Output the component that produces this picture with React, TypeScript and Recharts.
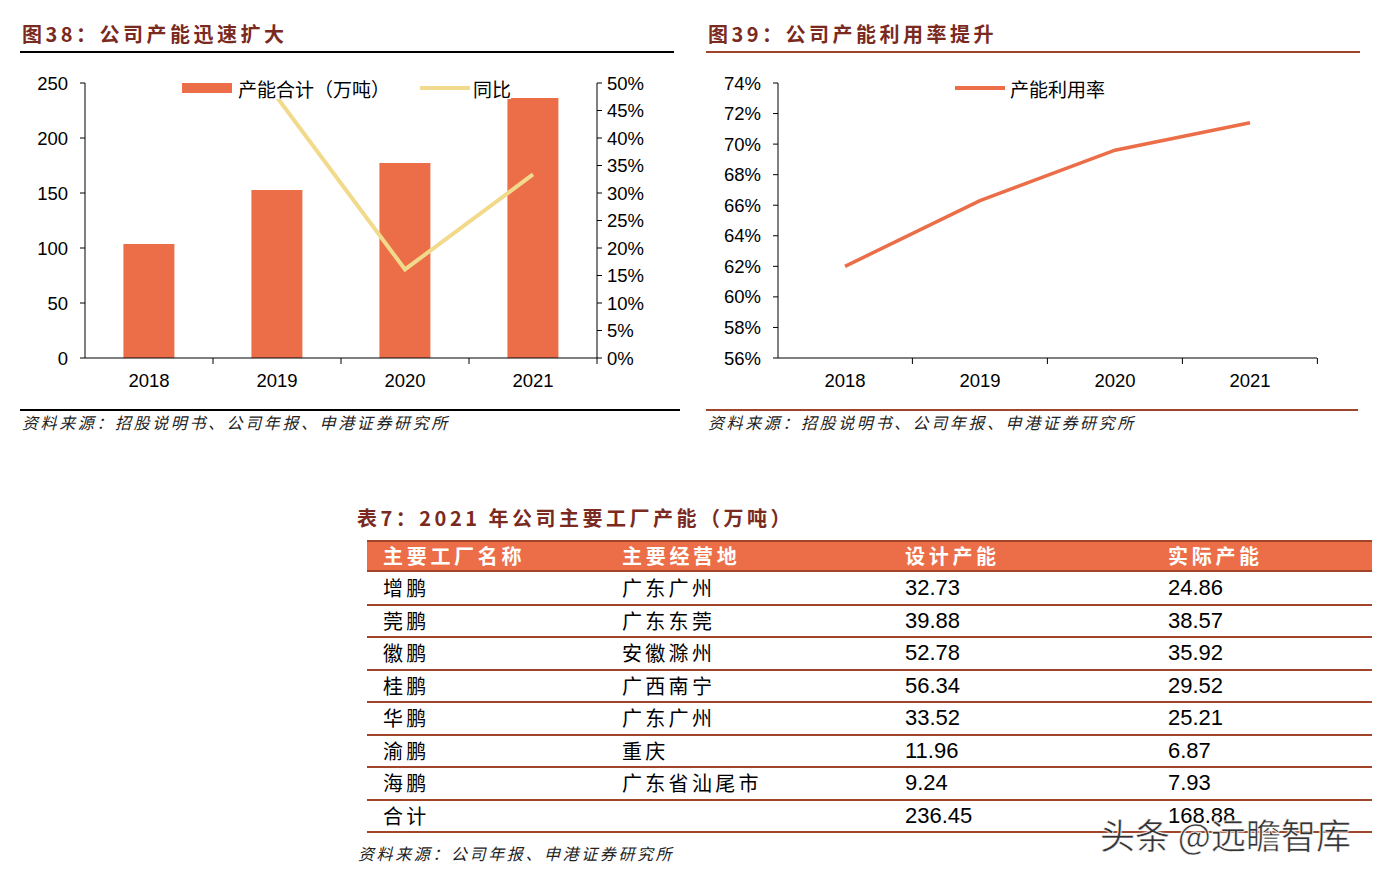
import React from "react";
import {
  ComposedChart,
  LineChart,
  Bar,
  Line,
  XAxis,
  YAxis,
  Legend,
} from "recharts";

const years = ["2018", "2019", "2020", "2021"];
const capacity = [103.6, 152.7, 177.3, 236.45];
const yoy = [null, 47.4, 16.1, 33.4];
const utilization = [62.0, 66.3, 69.6, 71.4];

const capTicks = [0, 50, 100, 150, 200, 250];
const yoyTicks = [0, 5, 10, 15, 20, 25, 30, 35, 40, 45, 50];
const utilTicks = [56, 58, 60, 62, 64, 66, 68, 70, 72, 74];

const tableHead = ["主要工厂名称", "主要经营地", "设计产能", "实际产能"];
const factories = ["增鹏", "莞鹏", "徽鹏", "桂鹏", "华鹏", "渝鹏", "海鹏", "合计"];
const places = ["广东广州", "广东东莞", "安徽滁州", "广西南宁", "广东广州", "重庆", "广东省汕尾市", ""];
const designCap = ["32.73", "39.88", "52.78", "56.34", "33.52", "11.96", "9.24", "236.45"];
const actualCap = ["24.86", "38.57", "35.92", "29.52", "25.21", "6.87", "7.93", "168.88"];

const ORANGE = "#EB6E48";
const YELLOW = "#F2DA8C";
const TITLE = "#7A2A1E";
const RULE = "#A0442A";
const NUM_FONT = '"Liberation Sans", Arial, sans-serif';
const CJK = '"Noto Sans CJK SC", sans-serif';

const capData = years.map((y, i) => ({ year: y, cap: capacity[i], yoy: yoy[i] }));
const utilData = years.map((y, i) => ({ year: y, util: utilization[i] }));

const tickStyle = { fill: "#000", fontSize: 18.5, fontFamily: NUM_FONT };
const pct = (v: number) => `${v}%`;

// year label plus a small separator mark at the right edge of each category
function YearTick(props: any) {
  const { x, y, payload, half } = props;
  const axisY = y - 16;
  return (
    <g>
      <text
        x={x}
        y={y}
        dy="0.71em"
        textAnchor="middle"
        fill="#000"
        fontSize={18.5}
        fontFamily={NUM_FONT}
      >
        {payload.value}
      </text>
      <line x1={x + half} x2={x + half} y1={axisY} y2={axisY + 6} stroke="#000" />
    </g>
  );
}

function Title({ x, text, line }: { x: number; text: string; line: string }) {
  return (
    <>
      <div
        style={{
          position: "absolute",
          left: x,
          top: 20,
          fontFamily: CJK,
          fontWeight: 700,
          fontSize: 20,
          letterSpacing: 3.5,
          color: TITLE,
          lineHeight: "28px",
          whiteSpace: "nowrap",
        }}
      >
        {text}
      </div>
      <div style={{ position: "absolute", left: x - 2, top: 51, width: 654, height: 1.5, background: line }} />
    </>
  );
}

function Source({ x, y, text }: { x: number; y: number; text: string }) {
  return (
    <div
      style={{
        position: "absolute",
        left: x,
        top: y,
        fontFamily: CJK,
        fontStyle: "italic",
        fontSize: 16,
        color: "#222",
        letterSpacing: 2.6,
        whiteSpace: "nowrap",
      }}
    >
      {text}
    </div>
  );
}

function CapLegend() {
  return (
    <div style={{ display: "flex", alignItems: "center", background: "#fff", fontFamily: CJK, fontSize: 19, height: 22 }}>
      <span style={{ width: 50, height: 10, background: ORANGE, display: "inline-block", marginRight: 6 }} />
      <span style={{ marginRight: 30 }}>产能合计（万吨）</span>
      <span style={{ width: 50, height: 4, background: YELLOW, display: "inline-block", marginRight: 3 }} />
      <span>同比</span>
    </div>
  );
}

function UtilLegend() {
  return (
    <div style={{ display: "flex", alignItems: "center", fontFamily: CJK, fontSize: 19, height: 22 }}>
      <span style={{ width: 50, height: 4, background: ORANGE, display: "inline-block", marginRight: 5 }} />
      <span>产能利用率</span>
    </div>
  );
}

export default function App() {
  const rowH = 32.5;
  const colX = [367, 606, 889, 1152, 1372];
  return (
    <div
      style={{
        position: "absolute",
        left: 0,
        top: 0,
        width: 1381,
        height: 880,
        background: "#fff",
        overflow: "hidden",
        fontFamily: CJK,
      }}
    >
      <Title x={22} text="图38：公司产能迅速扩大" line="#000" />
      <Title x={708} text="图39：公司产能利用率提升" line={RULE} />

      <div style={{ position: "absolute", left: 0, top: 60 }}>
        <ComposedChart
          width={690}
          height={360}
          data={capData}
          margin={{ top: 23, right: 0, bottom: 32, left: 0 }}
          barCategoryGap="30%"
        >
          <XAxis
            dataKey="year"
            tick={<YearTick half={64} />}
            tickLine={false}
            tickSize={6}
            tickMargin={10}
            axisLine={{ stroke: "#000" }}
            height={30}
          />
          <YAxis
            yAxisId="left"
            width={85}
            domain={[0, 250]}
            ticks={capTicks}
            tick={tickStyle}
            tickSize={5}
            tickMargin={12}
            axisLine={{ stroke: "#000" }}
            tickLine={{ stroke: "#000" }}
          />
          <YAxis
            yAxisId="right"
            orientation="right"
            width={93}
            domain={[0, 50]}
            ticks={yoyTicks}
            tickFormatter={pct}
            tick={{ ...tickStyle, textAnchor: "start" }}
            tickSize={5}
            tickMargin={5}
            axisLine={{ stroke: "#000" }}
            tickLine={{ stroke: "#000" }}
          />
          <Bar yAxisId="left" dataKey="cap" fill={ORANGE} isAnimationActive={false} />
          <Line
            yAxisId="right"
            dataKey="yoy"
            stroke={YELLOW}
            strokeWidth={4}
            dot={false}
            isAnimationActive={false}
          />
          <Legend
            layout="horizontal"
            verticalAlign="middle"
            align="center"
            wrapperStyle={{ top: 17, left: 182, width: "auto" }}
            content={() => <CapLegend />}
          />
        </ComposedChart>
      </div>

      <div style={{ position: "absolute", left: 690, top: 60 }}>
        <LineChart
          width={690}
          height={360}
          data={utilData}
          margin={{ top: 23, right: 63, bottom: 32, left: 0 }}
        >
          <XAxis
            dataKey="year"
            tick={<YearTick half={67.4} />}
            tickLine={false}
            tickSize={6}
            tickMargin={10}
            axisLine={{ stroke: "#000" }}
            height={30}
            padding={{ left: 67, right: 67 }}
          />
          <YAxis
            width={88}
            domain={[56, 74]}
            ticks={utilTicks}
            tickFormatter={pct}
            tick={tickStyle}
            tickSize={5}
            tickMargin={12}
            axisLine={{ stroke: "#000" }}
            tickLine={{ stroke: "#000" }}
          />
          <Line
            dataKey="util"
            stroke={ORANGE}
            strokeWidth={3.5}
            dot={false}
            isAnimationActive={false}
          />
          <Legend
            layout="horizontal"
            verticalAlign="middle"
            align="center"
            wrapperStyle={{ top: 17, left: 265, width: "auto" }}
            content={() => <UtilLegend />}
          />
        </LineChart>
      </div>

      <div style={{ position: "absolute", left: 20, top: 409, width: 660, height: 1.5, background: "#000" }} />
      <div style={{ position: "absolute", left: 706, top: 409, width: 652, height: 2, background: RULE }} />
      <Source x={22} y={410} text="资料来源：招股说明书、公司年报、申港证券研究所" />
      <Source x={708} y={410} text="资料来源：招股说明书、公司年报、申港证券研究所" />

      <div
        style={{
          position: "absolute",
          left: 357,
          top: 504,
          fontFamily: CJK,
          fontWeight: 700,
          fontSize: 20,
          letterSpacing: 3.5,
          color: TITLE,
          lineHeight: "28px",
          whiteSpace: "nowrap",
        }}
      >
        表7：2021 年公司主要工厂产能（万吨）
      </div>

      <div style={{ position: "absolute", left: 367, top: 540, width: 1005, height: 32, background: ORANGE, borderTop: `2px solid ${RULE}`, borderBottom: `2px solid ${RULE}`, boxSizing: "border-box" }} />
      {tableHead.map((h, c) => (
        <div
          key={h}
          style={{
            position: "absolute",
            left: colX[c] + 16,
            top: 540,
            height: 32,
            lineHeight: "32px",
            color: "#fff",
            fontWeight: 700,
            fontSize: 20,
            letterSpacing: 3.7,
            whiteSpace: "nowrap",
          }}
        >
          {h}
        </div>
      ))}
      {factories.map((f, r) => {
        const top = 572 + r * rowH;
        const cells = [f, places[r], designCap[r], actualCap[r]];
        return (
          <React.Fragment key={r}>
            {cells.map((t, c) => (
              <div
                key={c}
                style={{
                  position: "absolute",
                  left: colX[c] + 16,
                  top,
                  height: rowH,
                  lineHeight: `${rowH}px`,
                  fontFamily: c >= 2 ? NUM_FONT : CJK,
                  fontSize: c >= 2 ? 22 : 20,
                  letterSpacing: c >= 2 ? 0 : 3.3,
                  color: "#000",
                  whiteSpace: "nowrap",
                }}
              >
                {t}
              </div>
            ))}
            <div style={{ position: "absolute", left: 367, top: top + rowH - 1, width: 1005, height: 2, background: RULE }} />
          </React.Fragment>
        );
      })}
      <Source x={358} y={841} text="资料来源：公司年报、申港证券研究所" />

      <div
        style={{
          position: "absolute",
          left: 1100,
          top: 812,
          fontFamily: CJK,
          fontSize: 35,
          color: "#333",
          WebkitTextStroke: "0.5px #fff",
          textShadow: "0 0 2px #fff, 0 0 2px #fff",
          whiteSpace: "nowrap",
          lineHeight: "44px",
        }}
      >
        头条 @远瞻智库
      </div>
    </div>
  );
}
